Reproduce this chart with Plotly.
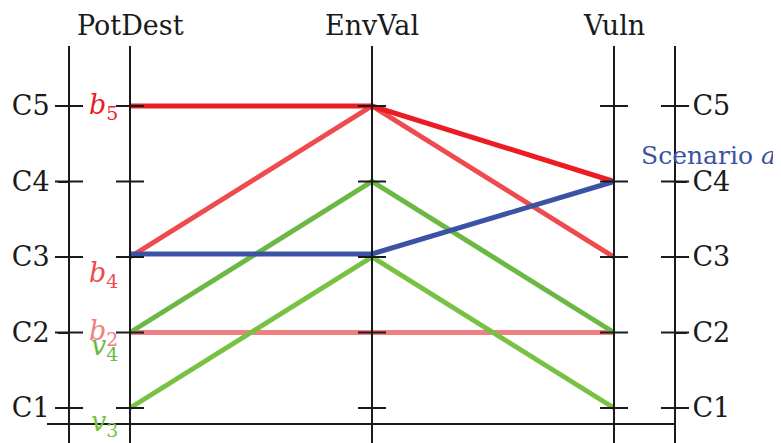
import plotly.graph_objects as go

# ---- data ----
axes_names = ["PotDest", "EnvVal", "Vuln"]
level_values = [1, 2, 3, 4, 5]
level_labels = ["C1", "C2", "C3", "C4", "C5"]

b2 = [2, 2, 2]
v3 = [1, 3, 1]
v4 = [2, 4, 2]
b4 = [3, 5, 3]
b5 = [5, 5, 4]
scenario_a = [3.04, 3.04, 4]

series = [
    ("b2", b2, "#f07f80"),
    ("v3", v3, "#79c143"),
    ("v4", v4, "#6cb844"),
    ("b4", b4, "#ef4a4f"),
    ("b5", b5, "#ed1c24"),
    ("Scenario a", scenario_a, "#3c53a4"),
]

FONT = "DejaVu Serif"
FS = 27
INK = "#1a1a1a"

W, H = 773, 435  # page body has an 8px margin

axis_x = list(range(len(axes_names)))
scale_left = -0.252
scale_right = 2.252
all_axes = [scale_left] + axis_x + [scale_right]

fig = go.Figure()

for name, vals, col in series:
    fig.add_trace(go.Scatter(x=axis_x, y=vals, mode="lines",
                             line=dict(color=col, width=5), hoverinfo="skip"))

# vertical axis lines
vx, vy = [], []
for x in all_axes:
    vx += [x, x, None]
    vy += [5.795, 0.3, None]
fig.add_trace(go.Scatter(x=vx, y=vy, mode="lines", line=dict(color=INK, width=2), hoverinfo="skip"))

# crossing tick marks
tx, ty = [], []
h = 0.058
for x in all_axes:
    for v in level_values:
        tx += [x - h, x + h, None]
        ty += [v, v, None]
fig.add_trace(go.Scatter(x=tx, y=ty, mode="lines", line=dict(color=INK, width=2), hoverinfo="skip"))

# bottom baseline
fig.add_trace(go.Scatter(x=[-0.343, scale_right], y=[0.788, 0.788], mode="lines",
                         line=dict(color=INK, width=2), hoverinfo="skip"))

# phantom trace for yaxis2
fig.add_trace(go.Scatter(x=[None], y=[None], yaxis="y2", showlegend=False))

yr = [0.5364, 6.298]
fig.update_layout(
    template="none",
    width=W, height=H,
    margin=dict(l=0, r=0, t=0, b=0),
    paper_bgcolor="white", plot_bgcolor="white",
    showlegend=False,
    xaxis=dict(range=[-0.5041, 2.690], visible=False, domain=[0, 1]),
    yaxis=dict(range=yr, tickvals=level_values, ticktext=level_labels,
               showgrid=False, zeroline=False, showline=False,
               anchor="free", position=61 / W, side="left",
               ticks="outside", ticklen=11, tickwidth=2, tickcolor=INK,
               ticklabelstandoff=3, automargin=False,
               tickfont=dict(family=FONT, size=FS, color=INK)),
    yaxis2=dict(range=yr, tickvals=level_values, ticktext=level_labels,
                showgrid=False, zeroline=False, showline=False,
                overlaying="y", anchor="free", position=667 / W, side="right",
                ticks="outside", ticklen=11, tickwidth=2, tickcolor=INK,
                ticklabelstandoff=0, automargin=False,
                tickfont=dict(family=FONT, size=FS, color=INK)),
)

# axis titles
for i, nm in enumerate(axes_names):
    fig.add_annotation(x=axis_x[i], y=6.07, text=nm, showarrow=False,
                       font=dict(family=FONT, size=FS, color=INK),
                       xanchor="center", yanchor="middle")

# series labels
lab = [
    ("<i>b</i><sub>5</sub>", 0, b5[0], 0, "#ed1c24"),
    ("<i>b</i><sub>4</sub>", 0, b4[0], -17, "#ef4a4f"),
    ("<i>b</i><sub>2</sub>", 0, b2[0], 0, "#f07f80"),
    ("<i>v</i><sub>4</sub>", 0, v4[0], -15, "#6cb844"),
    ("<i>v</i><sub>3</sub>", 0, v3[0], -15, "#79c143"),
]
for t, x, y, ys, col in lab:
    fig.add_annotation(x=x, y=y, text=t, showarrow=False, xanchor="right", yanchor="middle",
                       xshift=-10, yshift=ys, font=dict(family=FONT, size=FS, color=col))

fig.add_annotation(x=2, y=4.35, text="Scenario <i>a</i>", showarrow=False,
                   xanchor="left", yanchor="middle", xshift=25,
                   font=dict(family=FONT, size=25, color="#3c53a4"))

fig.write_html("out.html")
